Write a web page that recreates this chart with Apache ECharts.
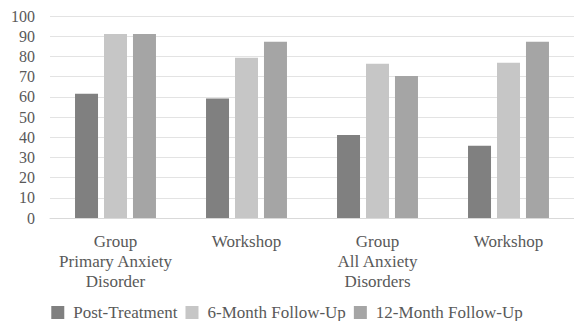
<!DOCTYPE html>
<html>
<head>
<meta charset="utf-8">
<script src="https://cdn.jsdelivr.net/npm/echarts@6/dist/echarts.min.js"></script>
<style>
  html, body { margin: 0; padding: 0; background: #fff; }
  #chart { width: 574px; height: 321px; }
  /* All chart text in the serif face */
  #chart svg text, #chart svg tspan { font-family: "Liberation Serif", "Times New Roman", serif !important; }
</style>
</head>
<body>
<div id="chart"></div>
<script>
// Outcome groups along the x axis
var categories = [
  'Group\nPrimary Anxiety\nDisorder',
  'Workshop',
  'Group\nAll Anxiety\nDisorders',
  'Workshop'
];

// Series names, in legend order
var seriesNames = ['Post-Treatment', '6-Month Follow-Up', '12-Month Follow-Up'];

// Percentages at each assessment point
var postTreatment = [61.5, 59.2, 41.1, 35.8];
var sixMonth = [91.1, 79.3, 76.3, 76.9];
var twelveMonth = [91.1, 87.2, 70.3, 87.2];

// Y axis range
var yMin = 0, yMax = 100, yStep = 10;

var FONT = 'Liberation Serif';
var TEXT = '#595959';

function barSeries(name, data, color) {
  return {
    name: name,
    type: 'bar',
    data: data,
    barWidth: 23,
    barGap: '26%',
    itemStyle: { color: color },
    emphasis: { disabled: true }
  };
}

var option = {
  animation: false,
  textStyle: { fontFamily: FONT },
  grid: { left: 50, right: 0, top: 16, bottom: 103, containLabel: false },
  legend: {
    bottom: -5,
    left: 'center',
    itemWidth: 13,
    itemHeight: 13,
    itemGap: 8,
    icon: 'rect',
    data: seriesNames,
    textStyle: { fontFamily: FONT, fontSize: 17, color: TEXT, padding: [0, 0, 0, 4] }
  },
  xAxis: {
    type: 'category',
    data: categories,
    axisLine: { lineStyle: { color: '#d9d9d9', width: 1 } },
    axisTick: { show: false },
    axisLabel: {
      fontFamily: FONT, fontSize: 17, color: TEXT,
      lineHeight: 20, margin: 13, interval: 0, verticalAlign: 'top'
    }
  },
  yAxis: {
    type: 'value',
    min: yMin, max: yMax, interval: yStep,
    axisLine: { show: false },
    axisTick: { show: false },
    splitLine: { lineStyle: { color: '#e3e3e3', width: 1 } },
    axisLabel: { fontFamily: FONT, fontSize: 16, color: TEXT, margin: 15 }
  },
  series: [
    barSeries(seriesNames[0], postTreatment, '#808080'),
    barSeries(seriesNames[1], sixMonth, '#c6c6c6'),
    barSeries(seriesNames[2], twelveMonth, '#a5a5a5')
  ]
};

var chart = echarts.init(document.getElementById('chart'), null, { renderer: 'svg' });
chart.setOption(option);
</script>
</body>
</html>
